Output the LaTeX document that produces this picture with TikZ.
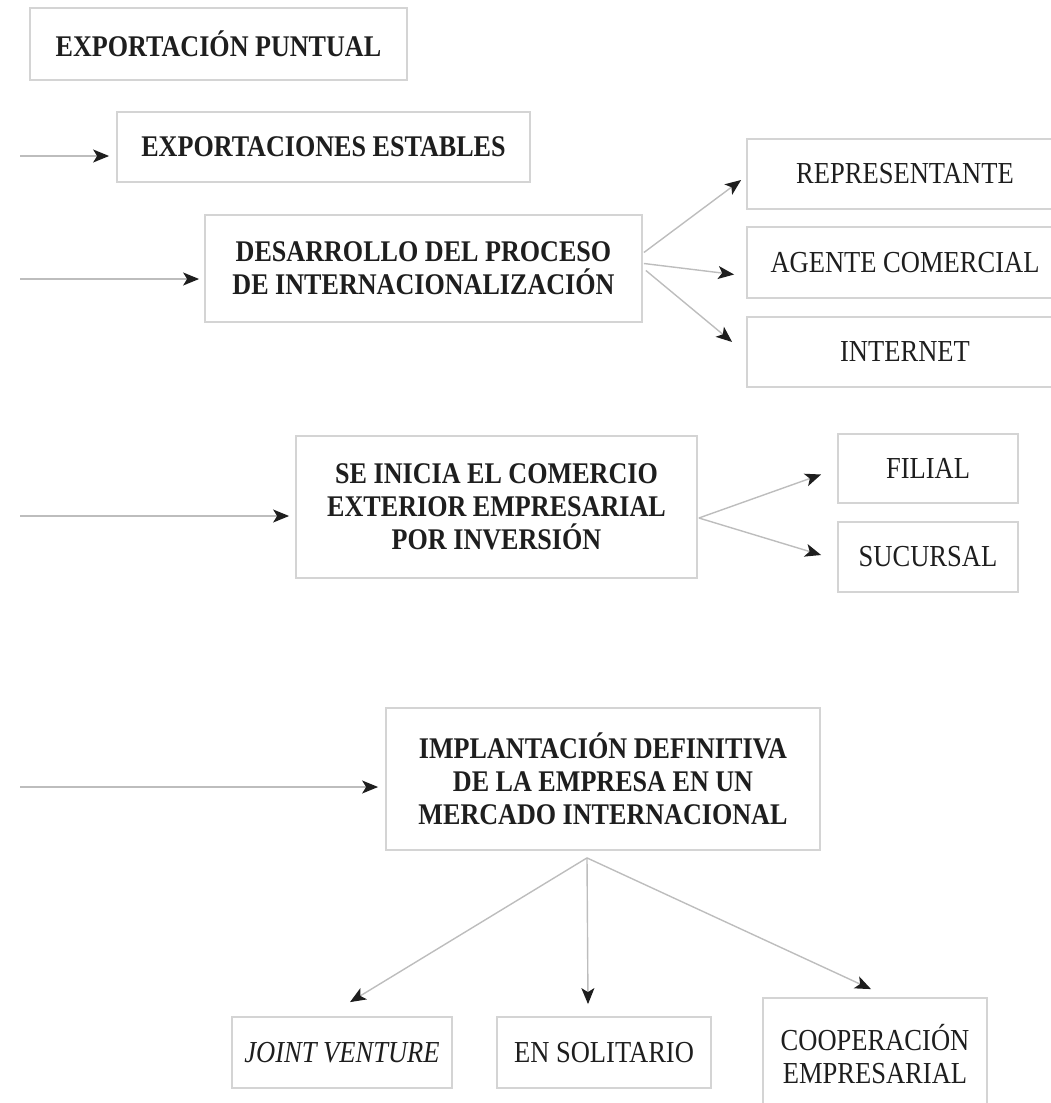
\documentclass[tikz,border=0pt]{standalone}
\usepackage{fontspec}
\setmainfont{Liberation Serif}[FakeStretch=0.87]
\usetikzlibrary{arrows.meta,calc}
\definecolor{edge}{HTML}{D4D4D4}
\definecolor{wire}{HTML}{BDBDBD}
\definecolor{ink}{HTML}{1E1E1E}
\tikzset{
  box/.style={draw=edge, line width=1.8pt, fill=white, align=center, text=ink,
    inner sep=0pt, font=\fontsize{30.5}{33}\selectfont},
  stage/.style={box, font=\bfseries\fontsize{30}{33}\selectfont},
  link/.style={draw=wire, line width=1.4pt,
    -{Stealth[color=ink, length=16pt, width=13pt, inset=4pt]}},
}
\begin{document}
\begin{tikzpicture}[x=1pt, y=-1pt]
\useasboundingbox (0,0) rectangle (1051,1103);

% stages of the process
\node[stage, minimum width=377pt, minimum height=72pt] (p1) at (218.5,44) {EXPORTACIÓN PUNTUAL};
\node[stage, minimum width=413pt, minimum height=70pt] (p2) at (323.5,147) {EXPORTACIONES ESTABLES};
\node[stage, minimum width=437pt, minimum height=107pt] (p3) at (423.5,268.5) {DESARROLLO DEL PROCESO\\DE INTERNACIONALIZACIÓN};
\node[stage, minimum width=401pt, minimum height=142pt] (s) at (496.5,507) {SE INICIA EL COMERCIO\\EXTERIOR EMPRESARIAL\\POR INVERSIÓN};
\node[stage, minimum width=434pt, minimum height=142pt] (im) at (603,779) {IMPLANTACIÓN DEFINITIVA\\DE LA EMPRESA EN UN\\MERCADO INTERNACIONAL};

% channels
\node[box, minimum width=316pt, minimum height=70pt] (r1) at (905,174) {REPRESENTANTE};
\node[box, minimum width=316pt, minimum height=71pt] (r2) at (905,262.5) {AGENTE COMERCIAL};
\node[box, minimum width=316pt, minimum height=70pt] (r3) at (905,352) {INTERNET};

% investment forms
\node[box, minimum width=180pt, minimum height=69pt] (f1) at (928,468.5) {FILIAL};
\node[box, minimum width=180pt, minimum height=70pt] (f2) at (928,557) {SUCURSAL};

% establishment modes
\node[box, minimum width=220pt, minimum height=71pt] (j) at (342,1052.5) {\textit{JOINT VENTURE}};
\node[box, minimum width=214pt, minimum height=71pt] (e) at (604,1052.5) {EN SOLITARIO};
\node[box, minimum width=224pt, minimum height=112pt] (c) at (875,1054) {COOPERACIÓN\\EMPRESARIAL};

% incoming arrows from the left margin
\coordinate (in2) at (20,156);
\coordinate (in3) at (20,279);
\coordinate (in4) at (20,516);
\coordinate (in5) at (20,787);
\draw[link, shorten >=7pt] (in2) -- (in2 -| p2.west);
\draw[link, shorten >=5pt] (in3) -- (in3 -| p3.west);
\draw[link, shorten >=6pt] (in4) -- (in4 -| s.west);
\draw[link, shorten >=7pt] (in5) -- (in5 -| im.west);

% branches
\draw[link] ($(p3.east)+(1,-16)$) -- ($(r1.west)+(-5,6)$);
\draw[link] ($(p3.east)+(1,-5)$) -- ($(r2.west)+(-12,12)$);
\draw[link] ($(p3.east)+(3,2)$) -- ($(r3.west)+(-14,-10)$);

\draw[link] ($(s.east)+(1,11)$) -- ($(f1.west)+(-16,6)$);
\draw[link] ($(s.east)+(1,11)$) -- ($(f2.west)+(-16,-2)$);

\coordinate (fork) at ($(im.south)+(-16,7)$);
\draw[link] (fork) -- ($(j.north)+(8,-14)$);
\draw[link] (fork) -- ($(fork |- e.north)+(1,-12)$);
\draw[link] (fork) -- ($(c.north)+(-4,-8)$);
\end{tikzpicture}
\end{document}
